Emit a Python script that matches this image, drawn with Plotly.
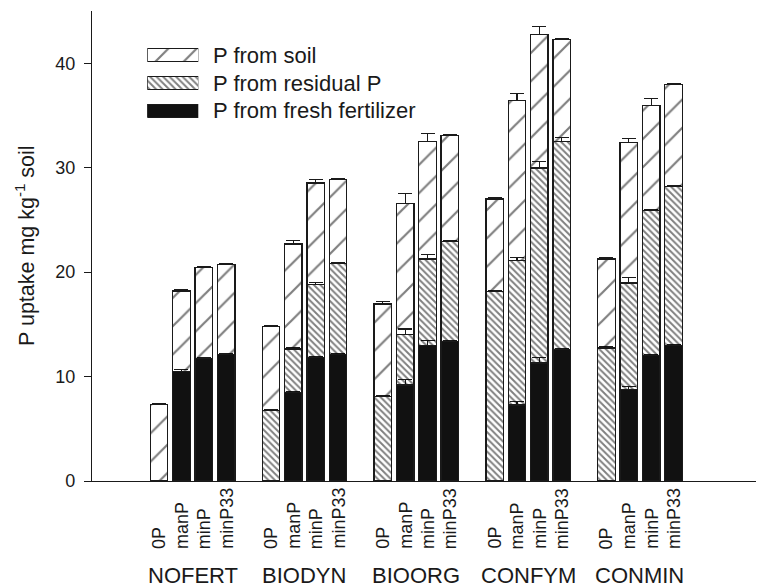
import plotly.graph_objects as go

# ---------------- data ----------------
groups = ["NOFERT", "BIODYN", "BIOORG", "CONFYM", "CONMIN"]
treatments = ["0P", "manP", "minP", "minP33"]

# segment values (mg/kg), order: groups x treatments
p_fresh = [0, 10.5, 11.7, 12.1,
           0, 8.45, 11.8, 12.1,
           0, 9.2, 12.98, 13.36,
           0, 7.27, 11.29, 12.57,
           0, 8.74, 12.02, 12.98]
p_residual = [0, 0, 0, 0,
              6.73, 4.2, 7.0, 8.7,
              8.09, 4.8, 8.27, 9.54,
              18.17, 13.82, 18.68, 19.95,
              12.73, 10.22, 13.86, 15.23]
p_soil = [7.3, 7.7, 8.75, 8.6,
          8.04, 10.05, 9.73, 8.05,
          8.86, 12.6, 11.25, 10.2,
          8.83, 15.36, 12.77, 9.74,
          8.52, 13.46, 10.06, 9.74]

err_fresh = [None, 0.2, 0.1, 0.1,
             None, 0.15, 0.1, 0.1,
             None, 0.55, 0.45, 0.1,
             None, 0.35, 0.55, 0.1,
             None, 0.3, 0.1, 0.1]
err_residual = [None, None, None, None,
                0.1, 0.15, 0.2, 0.15,
                0.1, 0.55, 0.45, 0.1,
                0.1, 0.3, 0.6, 0.4,
                0.1, 0.55, 0.15, 0.1]
err_soil = [0.1, 0.1, 0.1, 0.1,
            0.1, 0.3, 0.35, 0.15,
            0.2, 0.9, 0.8, 0.1,
            0.1, 0.65, 0.8, 0.1,
            0.1, 0.35, 0.65, 0.1]

series_names = ["P from soil", "P from residual P", "P from fresh fertilizer"]

# ---------------- layout helpers ----------------
FONT = "Liberation Sans, Arial, Helvetica, sans-serif"
TXT = "#1a1a1a"
OFF = 8                      # default page body margin
W, H = 764 - OFF, 587 - OFF
ML, MR, MT, MB = 92 - OFF, 1, 11 - OFF, 106
PW, PH = W - ML - MR, H - MT - MB
PLOT_LEFT, PLOT_BOTTOM = 92, 481   # in window pixels


def xp(px):
    return (px - PLOT_LEFT) / PW


def yp(px):
    return (PLOT_BOTTOM - px) / PH


xpos = [g * 5 + j for g in range(len(groups)) for j in range(len(treatments))]
BARW = 0.78
LINE = dict(color="#1a1a1a", width=1.3)

pat_soil = dict(shape="/", size=20, solidity=0.11, fgcolor="#000", bgcolor="rgba(0,0,0,0)")
pat_res = dict(shape="\\", size=4.6, solidity=0.42, fgcolor="#000", bgcolor="rgba(0,0,0,0)")


def err(arr):
    return dict(type="data", symmetric=False, array=arr,
                arrayminus=[0] * len(arr), color="#1a1a1a",
                thickness=1.2, width=7)


fig = go.Figure()
fig.add_trace(go.Bar(x=xpos, y=p_fresh, width=BARW, name=series_names[2],
                     marker=dict(color="#111111", line=LINE),
                     error_y=err(err_fresh), showlegend=False))
fig.add_trace(go.Bar(x=xpos, y=p_residual, width=BARW, name=series_names[1],
                     marker=dict(color="rgba(0,0,0,0)", line=LINE, pattern=pat_res),
                     error_y=err(err_residual), showlegend=False))
fig.add_trace(go.Bar(x=xpos, y=p_soil, width=BARW, name=series_names[0],
                     marker=dict(color="rgba(0,0,0,0)", line=LINE, pattern=pat_soil),
                     error_y=err(err_soil), showlegend=False))

# legend swatches on an overlay axis
leg_rows = [2, 1, 0]
leg_markers = [
    dict(color="rgba(0,0,0,0)", line=LINE, pattern=pat_soil),
    dict(color="rgba(0,0,0,0)", line=LINE, pattern=pat_res),
    dict(color="#111111", line=LINE),
]
for row, mk, nm in zip(leg_rows, leg_markers, series_names):
    fig.add_trace(go.Bar(x=[1], y=[row], base=0, orientation="h", width=0.47,
                         marker=mk, xaxis="x2", yaxis="y2", showlegend=False,
                         hoverinfo="skip"))

annotations = []
# legend texts
for cy, nm in zip([55.5, 83.3, 111.0], series_names):
    annotations.append(dict(text=nm, xref="paper", yref="paper", x=xp(210.5), y=yp(cy),
                            xanchor="left", yanchor="middle", showarrow=False,
                            font=dict(family=FONT, size=22, color=TXT)))
# treatment labels (rotated)
for i, x in enumerate(xpos):
    annotations.append(dict(text=treatments[i % len(treatments)], xref="x", yref="paper",
                            x=x, y=yp(551), xanchor="center", yanchor="bottom",
                            textangle=-90, showarrow=False,
                            font=dict(family=FONT, size=18, color=TXT)))
# group labels
for g, name in enumerate(groups):
    annotations.append(dict(text=name, xref="x", yref="paper", x=g * 5 + 1.5,
                            y=yp(575.5), xanchor="center", yanchor="middle",
                            showarrow=False, font=dict(family=FONT, size=22, color=TXT)))
# y axis title
annotations.append(dict(text="P uptake mg kg<sup>-1</sup> soil", xref="paper", yref="paper",
                        x=xp(25), y=0.5, xanchor="center", yanchor="middle",
                        textangle=-90, showarrow=False,
                        font=dict(family=FONT, size=21.5, color=TXT)))

fig.update_layout(
    width=W, height=H,
    margin=dict(l=ML, r=MR, t=MT, b=MB, pad=0),
    paper_bgcolor="white", plot_bgcolor="white",
    barmode="stack",
    showlegend=False,
    font=dict(family=FONT, color=TXT),
    xaxis=dict(range=[-3, 27], showticklabels=False, ticks="", showgrid=False,
               zeroline=False, showline=True, linecolor="#1a1a1a", linewidth=1.3,
               fixedrange=True),
    yaxis=dict(range=[0, 45], tickvals=[0, 10, 20, 30, 40], ticks="outside",
               ticklen=7, tickwidth=1.2, tickcolor="#1a1a1a", showgrid=False,
               zeroline=False, showline=True, linecolor="#1a1a1a", linewidth=1.3,
               tickfont=dict(family=FONT, size=18, color=TXT), ticklabelstandoff=5,
               fixedrange=True),
    xaxis2=dict(domain=[xp(147.3), xp(198.3)], range=[0, 1], anchor="y2",
                visible=False, fixedrange=True),
    yaxis2=dict(domain=[yp(124.8), yp(41.4)], range=[-0.5, 2.5], anchor="x2",
                visible=False, fixedrange=True),
    annotations=annotations,
)

fig.write_html("out.html", config=dict(displayModeBar=False))
